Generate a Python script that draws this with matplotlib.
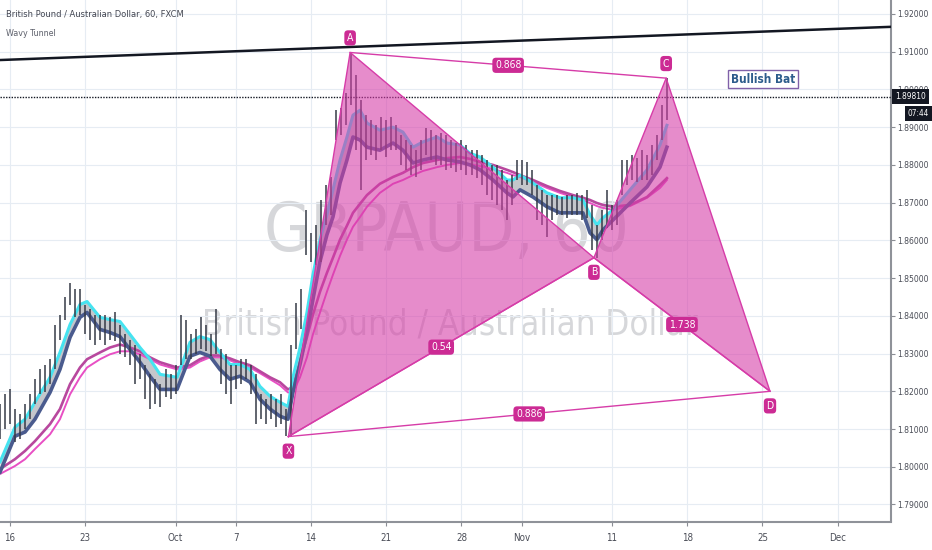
import numpy as np
import matplotlib
matplotlib.use("Agg")
import matplotlib.pyplot as plt
from matplotlib import font_manager as fm
from matplotlib.transforms import blended_transform_factory

# ---------------- fonts ----------------
_names = {f.name for f in fm.fontManager.ttflist}
_stretch = "normal"
if "Liberation Sans Narrow" in _names:
    _fam = "Liberation Sans Narrow"
elif any(f.name == "DejaVu Sans" and "Condensed" in f.fname for f in fm.fontManager.ttflist):
    _fam = "DejaVu Sans"
    _stretch = "condensed"
elif "Roboto Condensed" in _names:
    _fam = "Roboto Condensed"
else:
    _fam = "Liberation Sans"
plt.rcParams["font.family"] = [_fam, "DejaVu Sans"]
plt.rcParams["font.stretch"] = _stretch

# ---------------- data ----------------
# trading-day index: 0 = Mon 16 Sep 2019 (weekends skipped)
x_tick_days = [0, 5, 11, 15, 20, 25, 30, 34, 40, 45, 50, 55]
x_tick_labels = ["16", "23", "Oct", "7", "14", "21", "28", "Nov", "11", "18", "25", "Dec"]
y_ticks = [1.79, 1.80, 1.81, 1.82, 1.83, 1.84, 1.85, 1.86, 1.87, 1.88, 1.89, 1.90, 1.91, 1.92]

# price bars (one per 8 hours), high / low
bar_high = [1.8166, 1.8192, 1.8205, 1.8153, 1.8139, 1.8166, 1.8192, 1.8232, 1.8258, 1.8271,
            1.8285, 1.8377, 1.8403, 1.8451, 1.8488, 1.8470, 1.8470, 1.8430, 1.8417, 1.8403,
            1.8403, 1.8403, 1.8396, 1.8411, 1.8377, 1.8351, 1.8337, 1.8324, 1.8298, 1.8271,
            1.8245, 1.8232, 1.8219, 1.8258, 1.8245, 1.8271, 1.8403, 1.8390, 1.8351, 1.8364,
            1.8398, 1.8377, 1.8351, 1.8417, 1.8311, 1.8298, 1.8271, 1.8271, 1.8285, 1.8285,
            1.8271, 1.8245, 1.8192, 1.8179, 1.8192, 1.8179, 1.8192, 1.8153, 1.8324, 1.8435,
            1.8470, 1.8681, 1.8620, 1.8641, 1.8707, 1.8747, 1.8768, 1.8945, 1.8950, 1.8990,
            1.9098, 1.9038, 1.8972, 1.8932, 1.8919, 1.8905, 1.8927, 1.8919, 1.8927, 1.8905,
            1.8879, 1.8866, 1.8853, 1.8839, 1.8866, 1.8898, 1.8892, 1.8879, 1.8884, 1.8879,
            1.8866, 1.8858, 1.8866, 1.8853, 1.8839, 1.8839, 1.8826, 1.8813, 1.8800, 1.8800,
            1.8787, 1.8760, 1.8773, 1.8813, 1.8813, 1.8808, 1.8787, 1.8747, 1.8734, 1.8720,
            1.8720, 1.8720, 1.8715, 1.8720, 1.8720, 1.8726, 1.8720, 1.8734, 1.8694, 1.8641,
            1.8681, 1.8734, 1.8694, 1.8707, 1.8813, 1.8813, 1.8826, 1.8818, 1.8839, 1.8826,
            1.8853, 1.8879, 1.8958, 1.9030]
bar_low = [1.8073, 1.8100, 1.8113, 1.8065, 1.8073, 1.8100, 1.8126, 1.8166, 1.8192, 1.8197,
           1.8219, 1.8258, 1.8337, 1.8390, 1.8430, 1.8396, 1.8403, 1.8351, 1.8337, 1.8324,
           1.8337, 1.8324, 1.8337, 1.8332, 1.8298, 1.8290, 1.8271, 1.8219, 1.8232, 1.8179,
           1.8153, 1.8166, 1.8158, 1.8184, 1.8179, 1.8192, 1.8271, 1.8285, 1.8285, 1.8298,
           1.8311, 1.8306, 1.8293, 1.8298, 1.8219, 1.8192, 1.8166, 1.8205, 1.8219, 1.8232,
           1.8192, 1.8113, 1.8126, 1.8113, 1.8126, 1.8105, 1.8113, 1.8081, 1.8081, 1.8311,
           1.8364, 1.8562, 1.8543, 1.8536, 1.8543, 1.8641, 1.8668, 1.8866, 1.8879, 1.8905,
           1.8958, 1.8839, 1.8734, 1.8813, 1.8826, 1.8813, 1.8839, 1.8821, 1.8839, 1.8839,
           1.8800, 1.8787, 1.8773, 1.8768, 1.8787, 1.8826, 1.8813, 1.8800, 1.8800, 1.8787,
           1.8792, 1.8781, 1.8787, 1.8773, 1.8773, 1.8765, 1.8747, 1.8720, 1.8707, 1.8694,
           1.8681, 1.8654, 1.8694, 1.8760, 1.8747, 1.8747, 1.8720, 1.8654, 1.8641, 1.8610,
           1.8654, 1.8668, 1.8668, 1.8660, 1.8668, 1.8668, 1.8654, 1.8660, 1.8575, 1.8554,
           1.8602, 1.8633, 1.8628, 1.8641, 1.8720, 1.8747, 1.8760, 1.8755, 1.8760, 1.8760,
           1.8773, 1.8813, 1.8866, 1.8919]
bar_start_day = -0.667
bars_per_day = 3
last_price = 1.89810
last_time = "07:44"

# Wavy Tunnel indicator lines
ma_day = [-0.66, 0.33, 1.00, 1.66, 2.66, 3.32, 3.99, 4.65, 5.12, 5.98,
          6.64, 7.31, 7.97, 8.64, 9.30, 9.97, 11.10, 11.96, 12.62, 13.29,
          13.95, 14.62, 15.28, 15.95, 16.61, 17.28, 17.94, 18.47, 18.80, 19.27,
          19.73, 20.13, 20.60, 21.06, 21.46, 21.93, 22.39, 22.79, 23.26, 23.72,
          24.58, 25.45, 26.11, 26.78, 27.44, 28.37, 29.04, 29.90, 30.56, 31.23,
          32.09, 33.02, 33.42, 33.89, 34.75, 35.68, 36.54, 37.41, 38.07, 38.54,
          39.00, 39.40, 40.07, 41.20, 42.33, 43.19, 43.65]
ma_high = [1.8013, 1.8105, 1.8126, 1.8171, 1.8237, 1.8303, 1.8377, 1.8430, 1.8438, 1.8396,
           1.8390, 1.8385, 1.8351, 1.8316, 1.8285, 1.8245, 1.8237, 1.8330, 1.8345, 1.8337,
           1.8303, 1.8271, 1.8271, 1.8258, 1.8213, 1.8187, 1.8171, 1.8160, 1.8237, 1.8316,
           1.8409, 1.8509, 1.8602, 1.8668, 1.8734, 1.8813, 1.8874, 1.8932, 1.8945, 1.8911,
           1.8892, 1.8900, 1.8887, 1.8847, 1.8861, 1.8874, 1.8858, 1.8853, 1.8831, 1.8821,
           1.8794, 1.8760, 1.8760, 1.8773, 1.8752, 1.8726, 1.8713, 1.8713, 1.8707, 1.8668,
           1.8641, 1.8660, 1.8681, 1.8734, 1.8787, 1.8853, 1.8905]
ma_low = [1.7986, 1.8081, 1.8092, 1.8126, 1.8197, 1.8258, 1.8343, 1.8396, 1.8409, 1.8364,
          1.8356, 1.8345, 1.8311, 1.8277, 1.8240, 1.8205, 1.8205, 1.8293, 1.8303, 1.8293,
          1.8258, 1.8232, 1.8240, 1.8224, 1.8179, 1.8153, 1.8134, 1.8126, 1.8197, 1.8271,
          1.8356, 1.8443, 1.8544, 1.8615, 1.8662, 1.8752, 1.8813, 1.8874, 1.8866, 1.8847,
          1.8839, 1.8858, 1.8839, 1.8805, 1.8813, 1.8821, 1.8813, 1.8808, 1.8800, 1.8787,
          1.8760, 1.8726, 1.8715, 1.8734, 1.8715, 1.8689, 1.8673, 1.8673, 1.8673, 1.8620,
          1.8602, 1.8628, 1.8654, 1.8699, 1.8742, 1.8794, 1.8847]
ma_slow1 = [1.7994, 1.8020, 1.8042, 1.8068, 1.8113, 1.8153, 1.8219, 1.8263, 1.8285, 1.8303,
            1.8316, 1.8324, 1.8316, 1.8306, 1.8290, 1.8277, 1.8263, 1.8269, 1.8285, 1.8295,
            1.8295, 1.8287, 1.8277, 1.8269, 1.8253, 1.8237, 1.8224, 1.8205, 1.8211, 1.8279,
            1.8343, 1.8403, 1.8464, 1.8514, 1.8554, 1.8602, 1.8639, 1.8673, 1.8697, 1.8720,
            1.8750, 1.8768, 1.8779, 1.8794, 1.8805, 1.8813, 1.8818, 1.8821, 1.8816, 1.8808,
            1.8800, 1.8787, 1.8781, 1.8773, 1.8760, 1.8744, 1.8731, 1.8720, 1.8713, 1.8707,
            1.8699, 1.8694, 1.8689, 1.8694, 1.8715, 1.8747, 1.8765]
ma_slow2 = [1.7981, 1.8002, 1.8020, 1.8047, 1.8086, 1.8126, 1.8192, 1.8237, 1.8263, 1.8285,
            1.8298, 1.8306, 1.8306, 1.8298, 1.8285, 1.8271, 1.8258, 1.8263, 1.8279, 1.8290,
            1.8290, 1.8282, 1.8271, 1.8263, 1.8248, 1.8232, 1.8216, 1.8197, 1.8197, 1.8237,
            1.8290, 1.8351, 1.8409, 1.8464, 1.8509, 1.8559, 1.8602, 1.8636, 1.8662, 1.8689,
            1.8726, 1.8750, 1.8760, 1.8773, 1.8784, 1.8794, 1.8800, 1.8805, 1.8802, 1.8797,
            1.8789, 1.8779, 1.8773, 1.8768, 1.8755, 1.8739, 1.8726, 1.8715, 1.8707, 1.8699,
            1.8691, 1.8686, 1.8681, 1.8691, 1.8713, 1.8739, 1.8760]

# harmonic pattern (Bullish Bat)
pattern_labels = ["X", "A", "B", "C", "D"]
pattern_day = [18.50, 22.60, 38.80, 43.60, 50.50]
pattern_price = [1.8080, 1.9098, 1.8554, 1.9030, 1.8200]
ratio_pairs = [("X", "B"), ("A", "C"), ("B", "D"), ("X", "D")]
ratio_labels = ["0.54", "0.868", "1.738", "0.886"]
pattern_name = "Bullish Bat"
pattern_name_day = 50.03
pattern_name_price = 1.90277

# trend line
trend_day = [-0.66, 58.54]
trend_price = [1.9078, 1.9166]

title_text = "British Pound / Australian Dollar, 60, FXCM"
indicator_text = "Wavy Tunnel"
watermark_big = "GBPAUD, 60"
watermark_small = "British Pound / Australian Dollar"

# ---------------- figure ----------------
W, H = 932, 550
fig = plt.figure(figsize=(W / 100, H / 100), dpi=100)
fig.patch.set_facecolor("white")
ax_w, ax_h = 891, 521.5
ax = fig.add_axes([0, (H - ax_h) / H, ax_w / W, ax_h / H])
ax.set_xlim(-0.664, 58.54)
ax.set_ylim(1.78549, 1.92371)

ax.set_xticks(x_tick_days)
ax.set_xticklabels(x_tick_labels)
ax.set_yticks(y_ticks)
ax.set_yticklabels([f"{v:.5f}" for v in y_ticks])
ax.yaxis.tick_right()
ax.grid(True, color="#e6ecf3", lw=0.8, zorder=0)
ax.set_axisbelow(True)
tick_kw = dict(length=3, width=0.8, color="#8a8d94", labelcolor="#4a4d57")
ax.tick_params(axis="y", labelsize=8, pad=1.5, **tick_kw)
ax.tick_params(axis="x", labelsize=7, pad=5, **tick_kw)
for s in ("top", "left"):
    ax.spines[s].set_visible(False)
for s in ("right", "bottom"):
    ax.spines[s].set_color("#8f9299")
    ax.spines[s].set_linewidth(1.5)

# watermark
wm1 = ax.text(446 / ax_w, 1 - 232 / ax_h, watermark_big, transform=ax.transAxes,
              ha="center", va="center", color="#d6d7da", fontsize=50, zorder=0.5)
wm2 = ax.text(450 / ax_w, 1 - 325 / ax_h, watermark_small, transform=ax.transAxes,
              ha="center", va="center", color="#d6d7da", fontsize=30, zorder=0.5)

# indicator
ax.fill_between(ma_day, ma_high, ma_low, color="#c4c6cb", lw=0, zorder=2)
ax.plot(ma_day, ma_slow2, color="#e84fc4", lw=1.4, zorder=2.2)
ax.plot(ma_day, ma_slow1, color="#b8489e", lw=1.9, zorder=2.3)
ax.plot(ma_day, ma_high, color="#45e3f0", lw=2.2, zorder=2.4)
ax.plot(ma_day, ma_low, color="#4a5b8e", lw=2.6, zorder=2.4)

# price bars
bar_day = bar_start_day + np.arange(len(bar_high)) / bars_per_day
ax.vlines(bar_day, bar_low, bar_high, colors="#363a46", lw=1.1, zorder=3)

# trend line and last price line
ax.plot(trend_day, trend_price, color="#131722", lw=1.8, zorder=5)
ax.axhline(last_price, color="#131722", lw=1.0, ls=(0, (1, 1)), zorder=5)

# pattern
pd_ = dict(zip(pattern_labels, zip(pattern_day, pattern_price)))
pc = "#d63ca8"
for tri in (("X", "A", "B"), ("B", "C", "D")):
    xs = [pd_[k][0] for k in tri]
    ys = [pd_[k][1] for k in tri]
    ax.fill(xs, ys, color=pc, alpha=0.59, lw=0, zorder=6)
    ax.plot(xs + xs[:1], ys + ys[:1], color=pc, lw=1.0, zorder=6.5)
for a, b in ratio_pairs:
    ax.plot([pd_[a][0], pd_[b][0]], [pd_[a][1], pd_[b][1]], color=pc, lw=1.0, zorder=6.5)

lab_bbox = dict(boxstyle="round,pad=0.25,rounding_size=0.35", fc="#cc2b94", ec="none")
for i, lab in enumerate(pattern_labels):
    off = 10.5 if i % 2 == 1 else -10.5
    ax.annotate(lab, xy=pd_[lab], xytext=(0, off), textcoords="offset points",
                ha="center", va="center", color="white", fontsize=7.5,
                bbox=lab_bbox, zorder=8)
for (a, b), txt in zip(ratio_pairs, ratio_labels):
    mx = (pd_[a][0] + pd_[b][0]) / 2
    my = (pd_[a][1] + pd_[b][1]) / 2
    ax.text(mx, my, txt, ha="center", va="center", color="white", fontsize=7.5,
            bbox=lab_bbox, zorder=8)

bb = ax.text(pattern_name_day, pattern_name_price, pattern_name, ha="center", va="center",
             color="#2d5d8c", fontsize=11, fontweight="bold", zorder=8,
             bbox=dict(boxstyle="square,pad=0.25", fc="white", ec="#8061a9", lw=1.0))

# header texts
t1 = ax.text(6 / ax_w, 1 - 15 / ax_h, title_text, transform=ax.transAxes,
             ha="left", va="center", color="#434651", fontsize=8, zorder=9)
t2 = ax.text(6 / ax_w, 1 - 34 / ax_h, indicator_text, transform=ax.transAxes,
             ha="left", va="center", color="#5d606b", fontsize=8, zorder=9)

# price tag on the axis
trans = blended_transform_factory(ax.transAxes, ax.transData)
tag_box = dict(boxstyle="square,pad=0.35", fc="#131722", ec="none")
tag1 = ax.text(1.0 + 4 / ax_w, last_price, f"{last_price:.5f}", transform=trans, ha="left",
               va="center", color="white", fontsize=8, clip_on=False, zorder=10,
               bbox=tag_box)
tag2 = ax.annotate(last_time, xy=(1.0, last_price), xycoords=trans,
                   xytext=(17 * 0.72, -17 * 0.72), textcoords="offset points",
                   ha="left", va="center", color="white", fontsize=8,
                   annotation_clip=False, zorder=10, bbox=tag_box)

# fit text widths to the reference footprint
fig.canvas.draw()
r = fig.canvas.get_renderer()


def fit(t, target):
    w = t.get_window_extent(r).width
    if w > 0:
        t.set_fontsize(t.get_fontsize() * target / w)


fit(wm1, 365)
fit(wm2, 495)
fit(t1, 176)
fit(t2, 50)
fit(bb, 64)
fit(tag1, 31)
fit(tag2, 21)

lbl = ax.get_yticklabels()[0]
w = lbl.get_window_extent(r).width
tick_size = 8 * 31.5 / w if w > 0 else 7
ax.tick_params(axis="y", labelsize=tick_size)

fig.savefig("out.png", dpi=100, facecolor="white")
